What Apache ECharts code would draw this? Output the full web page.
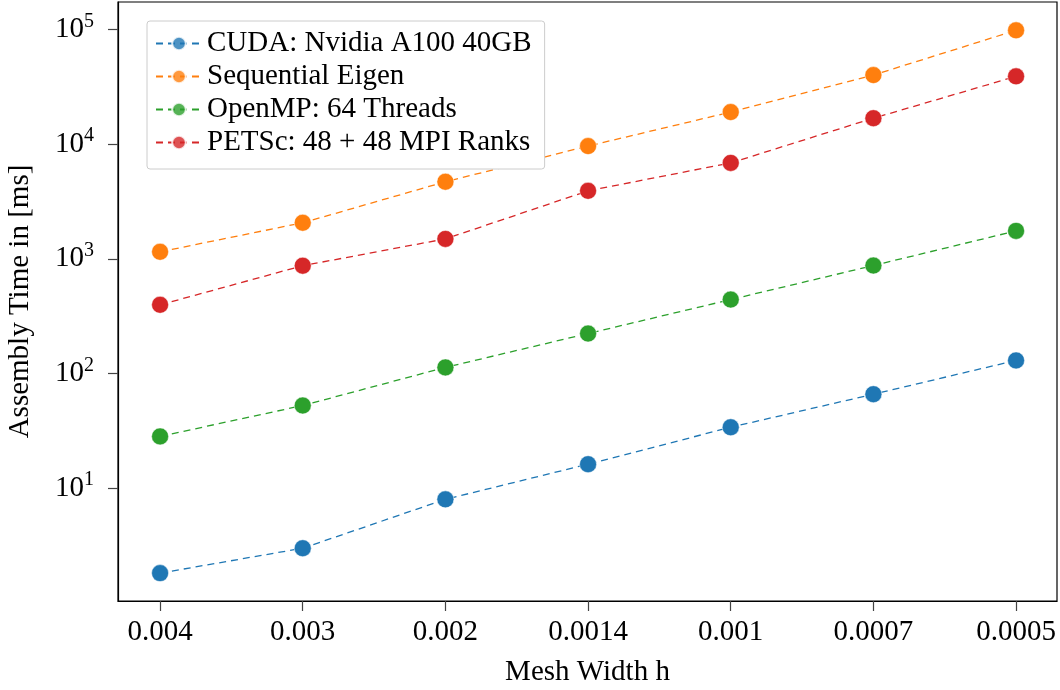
<!DOCTYPE html>
<html>
<head>
<meta charset="utf-8">
<script src="https://cdn.jsdelivr.net/npm/echarts@6/dist/echarts.min.js"></script>
<style>
html,body{margin:0;padding:0;background:#fff;}
#chart{width:1060px;height:690px;}
</style>
</head>
<body>
<div id="chart"></div>
<script>
const xLabels = ['0.004', '0.003', '0.002', '0.0014', '0.001', '0.0007', '0.0005'];
const yTicks = [10, 100, 1000, 10000, 100000];
const seriesNames = ['CUDA: Nvidia A100 40GB', 'Sequential Eigen', 'OpenMP: 64 Threads', 'PETSc: 48 + 48 MPI Ranks'];
const cuda = [1.82, 3.0, 8.0, 16.2, 34, 66, 130];
const eigen = [1150, 2060, 4690, 9600, 19000, 39900, 98000];
const openmp = [28.3, 52.6, 113, 223, 441, 873, 1750];
const petsc = [397, 870, 1490, 3910, 6850, 16800, 38900];
const colors = ['#1f77b4', '#ff7f0e', '#2ca02c', '#d62728'];
const allValues = [cuda, eigen, openmp, petsc];

const FONT = '"Liberation Serif", "DejaVu Serif", serif';
const FS = 29;

const chart = echarts.init(document.getElementById('chart'), null, {renderer: 'canvas'});

const series = allValues.map((vals, si) => ({
  name: seriesNames[si],
  type: 'line',
  data: vals.map((v, i) => [i, v]),
  symbol: 'circle',
  symbolSize: 17,
  color: colors[si],
  itemStyle: {color: colors[si], borderColor: '#fff', borderWidth: 0.5},
  lineStyle: {color: colors[si], width: 1.3, type: [7, 5]},
  emphasis: {disabled: true},
  animation: false
}));

chart.setOption({
  animation: false,
  textStyle: {fontFamily: FONT},
  grid: {left: 118, right: 3, top: 2, bottom: 89, show: true, borderColor: '#000', borderWidth: 1.2, containLabel: false, outerBoundsMode: 'none'},
  legend: {
    show: true,
    left: 147, top: 21,
    orient: 'vertical',
    padding: [8, 13, 12, 8],
    itemGap: 4,
    itemWidth: 46,
    itemHeight: 17,
    backgroundColor: '#fff',
    borderColor: '#cccccc',
    borderWidth: 1,
    borderRadius: 3,
    textStyle: {fontFamily: FONT, fontSize: FS, color: '#000'},
    itemStyle: {opacity: 0.8},
    data: seriesNames
  },
  xAxis: {
    type: 'value',
    min: -0.295,
    max: 6.287,
    name: 'Mesh Width h',
    nameLocation: 'middle',
    nameGap: 57,
    nameTextStyle: {fontFamily: FONT, fontSize: FS, color: '#000'},
    axisLine: {show: true, onZero: false, lineStyle: {color: '#000', width: 1.2}},
    axisTick: {show: true, customValues: [0,1,2,3,4,5,6], length: 10, lineStyle: {color: '#444', width: 1.2}},
    axisLabel: {
      customValues: [0,1,2,3,4,5,6],
      formatter: v => xLabels[Math.round(v)],
      fontFamily: FONT, fontSize: FS, color: '#000', margin: 17
    },
    splitLine: {show: false}
  },
  yAxis: {
    type: 'log',
    logBase: 10,
    min: 1.04,
    max: 173000,
    name: 'Assembly Time in [ms]',
    nameLocation: 'middle',
    nameGap: 83,
    nameTextStyle: {fontFamily: FONT, fontSize: FS, color: '#000'},
    axisLine: {show: true, onZero: false, lineStyle: {color: '#000', width: 1.2}},
    axisTick: {show: true, customValues: yTicks, length: 10, lineStyle: {color: '#444', width: 1.2}},
    minorTick: {show: false},
    axisLabel: {
      customValues: yTicks,
      formatter: v => '{b|10}{s|' + Math.round(Math.log10(v)) + '}',
      margin: 24,
      rich: {
        b: {fontFamily: FONT, fontSize: FS, color: '#000'},
        s: {fontFamily: FONT, fontSize: 20, color: '#000', padding: [0, 0, 16, 0]}
      }
    },
    splitLine: {show: false}
  },
  series: series
});
</script>
</body>
</html>
